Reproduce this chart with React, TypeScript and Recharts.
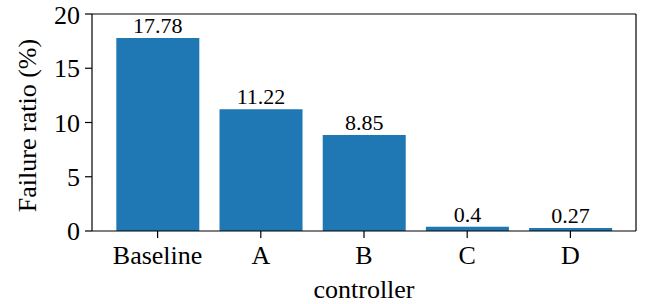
import React from 'react';
import { BarChart, Bar, XAxis, YAxis, LabelList } from 'recharts';

const categories = ['Baseline', 'A', 'B', 'C', 'D'];
const failureRatios = [17.78, 11.22, 8.85, 0.4, 0.27];
const yTicks = [0, 5, 10, 15, 20];

const data = categories.map((c, i) => ({ controller: c, ratio: failureRatios[i] }));

const FONT = "'Liberation Serif', 'Times New Roman', Times, serif";

const YLabel = (props: any) => {
    const { viewBox } = props;
    const cx = viewBox.x + 36;
    const cy = viewBox.y + viewBox.height / 2 + 3;
    return (
        <text
            x={cx}
            y={cy}
            transform={`rotate(-90, ${cx}, ${cy})`}
            textAnchor="middle"
            style={{ fontFamily: FONT, fontSize: 26 }}
            fill="#000"
        >
            Failure ratio (%)
        </text>
    );
};

const XLabel = (props: any) => {
    const { viewBox } = props;
    const cx = viewBox.x + viewBox.width / 2;
    return (
        <text x={cx} y={viewBox.y + 67} textAnchor="middle" style={{ fontFamily: FONT, fontSize: 26 }} fill="#000">
            controller
        </text>
    );
};

const App = () => {
    const tickStyle = { fill: '#000', fontSize: 26, style: { fontFamily: FONT } };
    const frame = { stroke: '#000', strokeWidth: 1.2 };
    return (
        <div style={{ position: 'absolute', left: 0, top: 0, width: 652, height: 304, background: '#fff' }}>
            <BarChart
                width={652}
                height={304}
                data={data}
                margin={{ top: 13, right: 15, left: 0, bottom: 0 }}
                barCategoryGap="10%"
            >
                <XAxis
                    dataKey="controller"
                    height={73}
                    padding={{ left: 14, right: 14 }}
                    tick={tickStyle}
                    tickSize={7}
                    tickMargin={8}
                    axisLine={frame}
                    tickLine={frame}
                    label={<XLabel />}
                />
                <XAxis
                    xAxisId="top"
                    orientation="top"
                    dataKey="controller"
                    height={1}
                    tick={false}
                    tickLine={false}
                    axisLine={frame}
                />
                <YAxis
                    width={92}
                    domain={[0, 20]}
                    ticks={yTicks}
                    tick={tickStyle}
                    tickSize={7}
                    tickMargin={5}
                    axisLine={frame}
                    tickLine={frame}
                    label={<YLabel />}
                />
                <YAxis
                    yAxisId="right"
                    orientation="right"
                    width={1}
                    domain={[0, 20]}
                    tick={false}
                    tickLine={false}
                    axisLine={frame}
                />
                <Bar dataKey="ratio" fill="#1f77b4" isAnimationActive={false}>
                    <LabelList
                        dataKey="ratio"
                        position="top"
                        offset={5}
                        fill="#000"
                        fontSize={22}
                        style={{ fontFamily: FONT }}
                    />
                </Bar>
            </BarChart>
        </div>
    );
};

export default App;
